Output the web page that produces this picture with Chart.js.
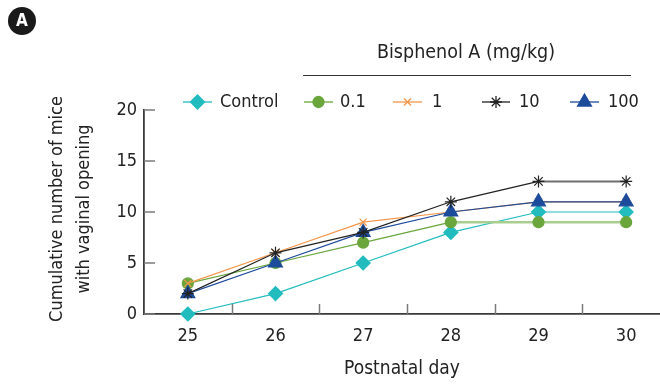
<!DOCTYPE html>
<html>
<head>
<meta charset="utf-8">
<script src="https://cdn.jsdelivr.net/npm/chart.js@4.4.1/dist/chart.umd.min.js"></script>
<style>
  html, body { margin: 0; padding: 0; background: #fff; }
  #wrap { position: relative; width: 660px; height: 384px; }
</style>
</head>
<body>
<div id="wrap"><canvas id="chart" width="660" height="384"></canvas></div>
<script>
// ===== DATA =====
const days = [25, 26, 27, 28, 29, 30];
const yTicks = [0, 5, 10, 15, 20];
const controlVals = [0, 2, 5, 8, 10, 10];
const bpa01Vals  = [3, 5, 7, 9, 9, 9];
const bpa1Vals   = [3, 6, 9, 10, 11, 11];
const bpa10Vals  = [2, 6, 8, 11, 13, 13];
const bpa100Vals = [2, 5, 8, 10, 11, 11];

const FONT = "'DejaVu Sans Condensed', 'Liberation Sans Narrow', sans-serif";

// flat: colour/width used on level segments (the print renders those lighter)
const series = [
  { label: 'Control', data: controlVals, color: '#22bcbf', style: 'rectRot',  r: 7,   order: 5 },
  { label: '0.1',     data: bpa01Vals,  color: '#6aa63c', style: 'circle',   r: 5.5, order: 4, flat: ['#a9cf90', 2.6] },
  { label: '1',       data: bpa1Vals,   color: '#f4964a', style: 'crossRot', r: 5,   order: 3 },
  { label: '10',      data: bpa10Vals,  color: '#222222', style: 'star',     r: 6,   order: 1, flat: ['#6e6e6e', 2] },
  { label: '100',     data: bpa100Vals, color: '#1d4b9b', style: 'triangle', r: 8,   order: 2 }
];

// legend layout (line ends, text start)
const legendPos = [
  { x1: 183, x2: 212, tx: 220 },
  { x1: 304, x2: 333, tx: 340 },
  { x1: 393, x2: 422, tx: 432 },
  { x1: 482, x2: 510, tx: 519 },
  { x1: 570, x2: 599, tx: 608 }
];

// inward tick marks, legend, header, y title
const decor = {
  id: 'decor',
  afterDraw(chart) {
    const { ctx, chartArea, scales } = chart;
    const x = scales.x, y = scales.y;
    ctx.save();
    ctx.strokeStyle = '#7a7a7a';
    ctx.lineWidth = 1.5;
    yTicks.forEach(v => {
      const py = Math.round(y.getPixelForValue(v));
      ctx.beginPath(); ctx.moveTo(chartArea.left, py); ctx.lineTo(chartArea.left + 11, py); ctx.stroke();
    });
    days.slice(0, -1).forEach(d => {
      const px = Math.round(x.getPixelForValue(d + 0.5)) + 0.5;
      ctx.beginPath(); ctx.moveTo(px, chartArea.bottom); ctx.lineTo(px, chartArea.bottom - 10); ctx.stroke();
    });

    // legend
    ctx.font = '18px ' + FONT;
    ctx.textBaseline = 'middle';
    const ly = 102;
    series.forEach((s, i) => {
      const p = legendPos[i];
      ctx.strokeStyle = s.color; ctx.lineWidth = 1.3;
      ctx.beginPath(); ctx.moveTo(p.x1, ly); ctx.lineTo(p.x2, ly); ctx.stroke();
      ctx.fillStyle = s.color; ctx.strokeStyle = s.color;
      Chart.helpers.drawPoint(ctx, { pointStyle: s.style, radius: s.r, borderWidth: 1.2, rotation: 0 }, (p.x1 + p.x2) / 2, ly);
      ctx.fillStyle = '#222';
      ctx.fillText(s.label, p.tx, ly);
    });

    // header
    ctx.font = '19.5px ' + FONT;
    ctx.textAlign = 'center';
    ctx.fillStyle = '#222';
    ctx.fillText('Bisphenol A (mg/kg)', 466, 53);
    ctx.strokeStyle = '#333'; ctx.lineWidth = 1.2;
    ctx.beginPath(); ctx.moveTo(303, 75.5); ctx.lineTo(631, 75.5); ctx.stroke();

    // y axis title
    ctx.save();
    ctx.translate(57, 209);
    ctx.rotate(-Math.PI / 2);
    ctx.font = '18px ' + FONT;
    ctx.fillText('Cumulative number of mice', 0, 0);
    ctx.fillText('with vaginal opening', 0, 27);
    ctx.restore();

    // panel badge
    ctx.fillStyle = '#1a1a1a';
    ctx.beginPath(); ctx.arc(22, 21, 14, 0, Math.PI * 2); ctx.fill();
    ctx.fillStyle = '#fff';
    ctx.font = 'bold 17px ' + FONT;
    ctx.fillText('A', 22, 22);
    ctx.restore();
  }
};

new Chart(document.getElementById('chart'), {
  type: 'line',
  data: {
    datasets: series.map(s => ({
      label: s.label,
      order: s.order,
      data: s.data.map((v, i) => ({ x: days[i], y: v })),
      borderColor: s.color,
      backgroundColor: s.color,
      pointBorderColor: s.color,
      pointBackgroundColor: s.color,
      pointStyle: s.style,
      pointRadius: s.r,
      pointBorderWidth: 1.2,
      borderWidth: 1.2,
      tension: 0,
      clip: false,
      segment: s.flat ? {
        borderColor: c => c.p0.parsed.y === c.p1.parsed.y ? s.flat[0] : undefined,
        borderWidth: c => c.p0.parsed.y === c.p1.parsed.y ? s.flat[1] : undefined
      } : {}
    }))
  },
  options: {
    responsive: false,
    animation: false,
    layout: { autoPadding: false, padding: { top: 110, right: 0, left: 0, bottom: 0 } },
    plugins: { legend: { display: false }, tooltip: { enabled: false } },
    scales: {
      x: {
        type: 'linear',
        min: 24.5,
        max: 30.386,
        afterBuildTicks: s => { s.ticks = days.map(v => ({ value: v })); },
        afterFit: s => { s.height = 70; s.paddingLeft = 0; s.paddingRight = 0; },
        grid: { display: false, drawTicks: false },
        border: { color: '#3a3a3a', width: 1.8 },
        ticks: { color: '#222', font: { family: FONT, size: 18 }, padding: 12, maxRotation: 0 },
        title: { display: true, text: 'Postnatal day', color: '#222', font: { family: FONT, size: 19 }, padding: { top: 12 } }
      },
      y: {
        min: 0,
        max: 20,
        afterBuildTicks: s => { s.ticks = yTicks.map(v => ({ value: v })); },
        afterFit: s => { s.width = 144; s.paddingTop = 0; s.paddingBottom = 0; },
        grid: { display: false, drawTicks: false },
        border: { color: '#3a3a3a', width: 1.8 },
        ticks: { color: '#222', font: { family: FONT, size: 18 }, padding: 7 },
        title: { display: false }
      }
    }
  },
  plugins: [decor]
});
</script>
</body>
</html>
